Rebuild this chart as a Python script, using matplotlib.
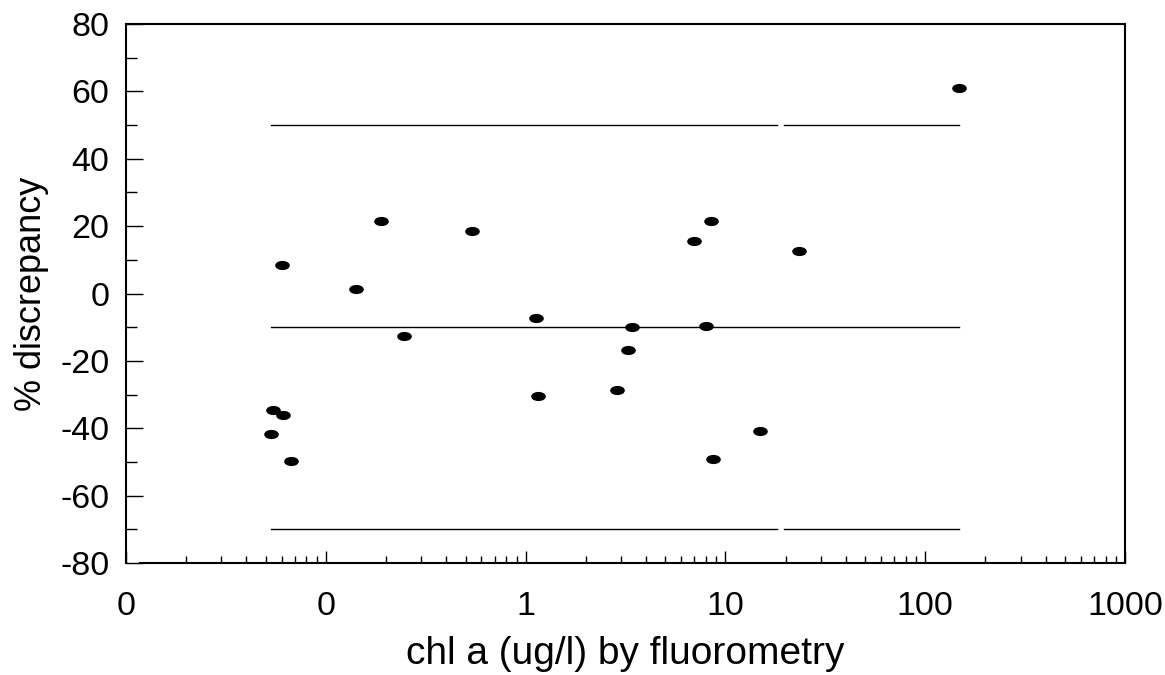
import numpy as np
import matplotlib
matplotlib.use('Agg')
import matplotlib.pyplot as plt
from matplotlib.path import Path
from matplotlib.transforms import Affine2D

plt.rcParams['font.family'] = ['Liberation Sans', 'DejaVu Sans']
plt.rcParams['axes.unicode_minus'] = False

# Données
chl = [0.0532, 0.0544, 0.0611, 0.0670, 0.0604, 0.1416, 0.1888, 0.246, 0.540,
       1.127, 1.153, 2.866, 3.26, 3.41, 6.97, 8.0, 8.47, 8.67, 14.9, 23.3, 147.6]
discrepancy = [-41.8, -34.7, -36.2, -49.6, 8.6, 1.2, 21.4, -12.5, 18.7,
               -7.4, -30.3, -28.5, -16.9, -9.8, 15.7, -9.5, 21.4, -49.0, -40.7, 12.5, 61.1]
ref_lines = [50, -10, -70]
xticks = [0.01, 0.1, 1, 10, 100, 1000]
xtick_labels = ['0', '0', '1', '10', '100', '1000']

# marqueur elliptique
ellipse = Path.unit_circle().transformed(Affine2D().scale(1.7, 1.0))

fig = plt.figure(figsize=(11.65, 6.75), dpi=100)
ax = fig.add_axes([0.1082, 0.1659, 0.8575, 0.7985])

x_min, x_max = min(chl), max(chl)
gap = (18.1, 19.6)
for y in ref_lines:
    if y == -10:
        ax.plot([x_min, x_max], [y, y], color='black', linewidth=1.0)
    else:
        ax.plot([x_min, gap[0]], [y, y], color='black', linewidth=1.0)
        ax.plot([gap[1], x_max], [y, y], color='black', linewidth=1.0)

ax.plot(chl, discrepancy, linestyle='none', marker=ellipse, markersize=9.5,
        color='black')

ax.set_xscale('log')
ax.set_xlim(0.01, 1000)
ax.set_ylim(-80, 80)
ax.set_xticks(xticks)
ax.set_xticklabels(xtick_labels)
ax.set_xticks([m * 10.0 ** e for e in range(-2, 3) for m in range(2, 10)], minor=True)
ax.set_yticks(np.arange(-80, 81, 20))
ax.set_yticks(np.arange(-70, 80, 20), minor=True)

ax.tick_params(axis='both', which='both', direction='in', labelsize=24.5, width=1.0)
ax.tick_params(axis='y', which='major', length=12, pad=12)
ax.tick_params(axis='y', which='minor', length=8)
ax.tick_params(axis='x', which='major', length=9, pad=20)
ax.tick_params(axis='x', which='minor', length=5)

for s in ax.spines.values():
    s.set_linewidth(1.5)
ax.spines['bottom'].set_bounds(0.0117, 1000)

ax.set_xlabel('chl a (ug/l) by fluorometry', fontsize=28, labelpad=10)
ax.set_ylabel('% discrepancy', fontsize=26, labelpad=8)

fig.savefig('out.png', dpi=100)
